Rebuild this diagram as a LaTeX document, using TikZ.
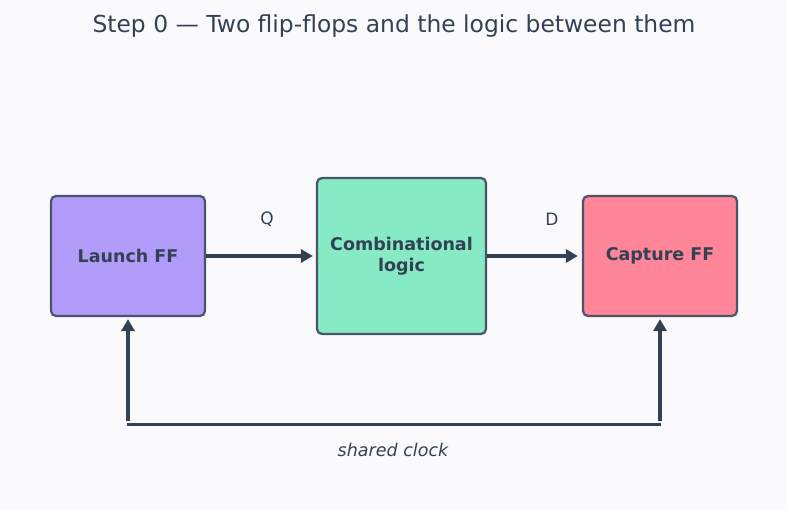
\documentclass[tikz,border=0pt]{standalone}
\usepackage{fontspec}
\setmainfont{DejaVu Sans}
\usetikzlibrary{arrows.meta, positioning}

\definecolor{bgcol}{HTML}{FAFAFD}
\definecolor{launchcol}{HTML}{B19CF9}
\definecolor{logiccol}{HTML}{86EAC5}
\definecolor{capturecol}{HTML}{FF8599}
\definecolor{edgecol}{HTML}{4A5468}
\definecolor{wirecol}{HTML}{334155}
\definecolor{textcol}{HTML}{334155}

\begin{document}
\begin{tikzpicture}[
    x=1pt, y=-1pt,
    % Define block style
    block/.style={
        draw=edgecol, % Border colour
        line width=2.2pt, % Border width
        rectangle, % Rectangle shape
        rounded corners=5pt, % Soft corners
        align=center, % Center alignment
        text=textcol,
        font=\fontsize{17.5}{21}\selectfont\bfseries
      },
    % Define wire style
    wire/.style={
        draw=wirecol,
        line width=3.5pt,
        -{Triangle[length=12pt, width=13pt]}
      },
    % Define label style
    tag/.style={text=textcol, font=\fontsize{17}{20}\selectfont}
  ]

  % Background and page size
  \useasboundingbox[fill=bgcol] (0,0) rectangle (787,510);

  % Title
  \node[text=textcol, font=\fontsize{23.4}{27}\selectfont] (title) at (394,26)
    {Step 0 — Two flip-flops and the logic between them};

  % Define nodes
  \node[block, fill=launchcol, minimum width=154pt, minimum height=120pt] (launch) at (128,256) {Launch FF}; % left flip-flop
  \node[block, fill=logiccol, minimum width=169pt, minimum height=156pt] (logic) at (401.5,256) {Combinational\\logic}; % logic in the middle
  \node[block, fill=capturecol, minimum width=154pt, minimum height=120pt] (capture) at (660,256) {Capture FF}; % right flip-flop

  % Data path
  \draw[wire, shorten >=3pt] (launch) -- (logic);
  \node[tag] (q) at (267,219) {Q};
  \draw[wire, shorten >=4pt] (logic) -- (capture);
  \node[tag] (d) at (552,219) {D};

  % Clock: common line under the flip-flops
  \coordinate (clkL) at (128,424);
  \coordinate (clkR) at (660,424);
  \draw[draw=wirecol, line width=3pt] ([xshift=-1pt]clkL) -- ([xshift=1pt]clkR);
  \draw[wire, shorten >=2pt] ([yshift=3pt]clkL) -- (launch.south);
  \draw[wire, shorten >=2pt] ([yshift=3pt]clkR) -- (capture.south);
  \node[tag, font=\fontsize{17.5}{20}\selectfont\itshape] (clk) at (393,450) {shared clock};

\end{tikzpicture}
\end{document}
